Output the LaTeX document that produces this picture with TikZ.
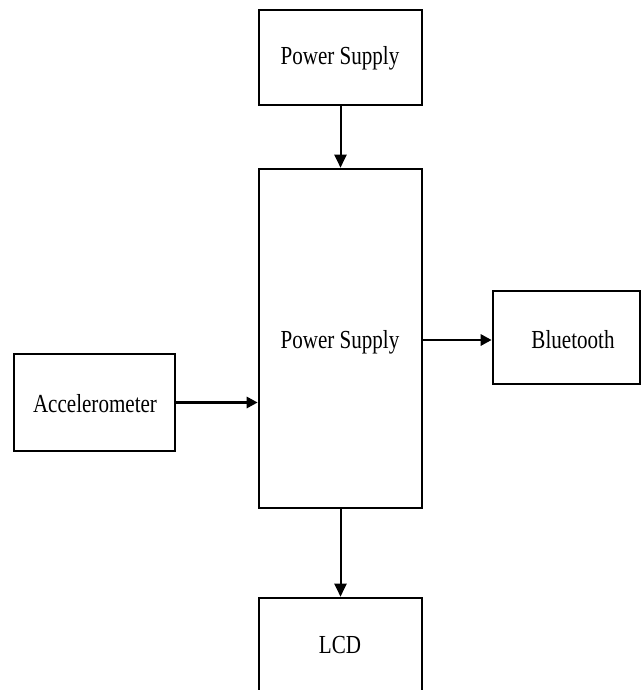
\documentclass[tikz,border=0pt]{standalone}
\usepackage{fontspec}
\setmainfont{Liberation Serif}
\usetikzlibrary{arrows.meta}
\tikzset{
  blockbox/.style={draw=black, line width=2.6pt, fill=white, inner sep=0pt, minimum width=#1},
  blocktext/.style={inner sep=0pt},
  flowarrow/.style={line width=2pt, -{Triangle[length=13pt,width=12pt]}},
  sidearrow/.style={line width=2.8pt, -{Triangle[length=11pt,width=11pt]}}
}
\newcommand{\lbl}[1]{\fontsize{26}{30}\selectfont\scalebox{0.81}[1]{#1}}
\begin{document}
\begin{tikzpicture}[x=1pt,y=-1pt]
\clip (0,0) rectangle (642,690);
\fill[white] (0,0) rectangle (642,690);
% boxes
\node[blockbox=163pt, minimum height=95pt] (ps) at (340.5,57.5) {};
\node[blockbox=163pt, minimum height=339pt] (mcu) at (340.5,338.5) {};
\node[blockbox=147pt, minimum height=93pt] (bt) at (566.5,337.5) {};
\node[blockbox=161pt, minimum height=97pt] (acc) at (94.5,402.5) {};
\node[blockbox=163pt, minimum height=104pt] (lcd) at (340.5,650) {};
% texts
\node[blocktext] (tps) at (340,58) {\lbl{Power Supply}};
\node[blocktext] (tmcu) at (340,342) {\lbl{Power Supply}};
\node[blocktext] (tbt) at (573,340) {\lbl{Bluetooth}};
\node[blocktext] (tacc) at (95,404) {\lbl{Accelerometer}};
\node[blocktext] (tlcd) at (340,645) {\lbl{LCD}};
% connectors
\draw[flowarrow] (ps.south) -- (mcu.north);
\draw[flowarrow] (mcu.south) -- (lcd.north);
\draw[sidearrow] (acc.east) -- (acc.east -| mcu.west);
\draw[sidearrow] ([yshift=-2.5pt]mcu.east |- bt.west) -- ([yshift=-2.5pt]bt.west);
\end{tikzpicture}
\end{document}
